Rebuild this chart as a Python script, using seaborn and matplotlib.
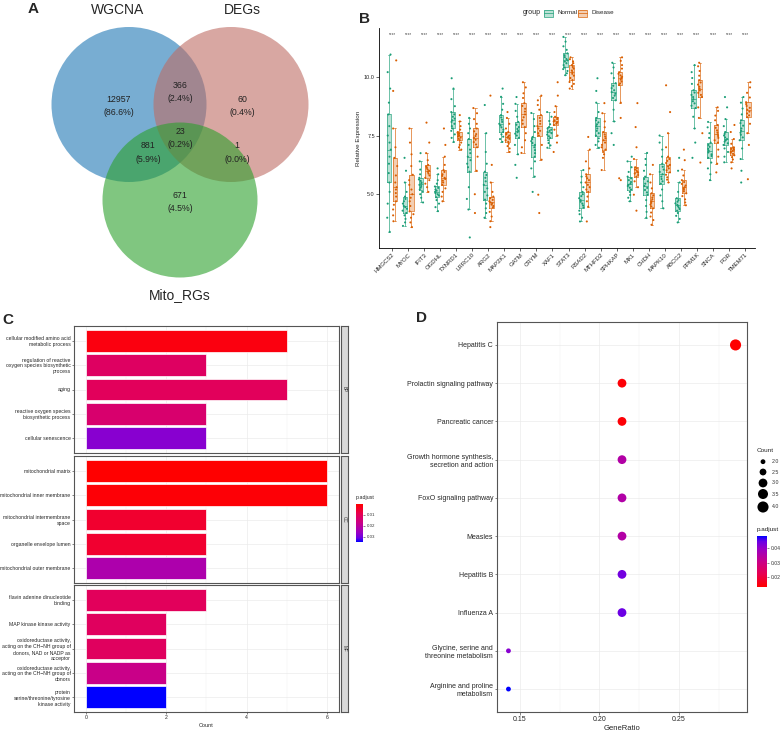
import numpy as np
import pandas as pd
import matplotlib
matplotlib.use('Agg')
import matplotlib as mpl
import matplotlib.pyplot as plt
import seaborn as sns
from matplotlib.patches import Circle, Rectangle
from matplotlib.colors import LinearSegmentedColormap, Normalize

sns.set_theme(style='white')
plt.rcParams['font.family'] = ['Liberation Sans', 'DejaVu Sans']

# ---------------- Panel A data (Venn) ----------------
venn_sets = ['WGCNA', 'DEGs', 'Mito_RGs']
venn_regions = ['WGCNA only', 'WGCNA&DEGs', 'DEGs only', 'all', 'WGCNA&Mito', 'DEGs&Mito', 'Mito only']
venn_counts = [12957, 366, 60, 23, 881, 1, 671]

# ---------------- Panel B data ----------------
genes = ['HMGCS2', 'MYOC', 'IFIT3', 'OGDHL', 'TXNRD1', 'LRRC10', 'ARG2', 'MAP2K1', 'GATM', 'CRYM',
         'XAF1', 'STAT3', 'RSAD2', 'MTHFD2', 'SPHKAP', 'MX1', 'CHDH', 'MAPK10', 'ABCG2', 'PPM1K',
         'SNCA', 'POR', 'TMEM71']
groups = ['Normal', 'Disease']
normal_vals = [
    [3.4, 4.0, 4.6, 5.1, 5.5, 5.9, 6.3, 6.6, 6.9, 7.2, 7.5, 7.9, 8.4, 8.9, 9.5, 10.2, 10.95],
    [3.65, 3.8, 3.95, 4.1, 4.2, 4.3, 4.38, 4.45, 4.5, 4.6, 4.7, 4.8, 4.9, 5.1, 5.5, 6.0, 6.55],
    [4.65, 4.85, 5.0, 5.1, 5.2, 5.28, 5.35, 5.4, 5.45, 5.5, 5.57, 5.63, 5.7, 5.85, 6.05, 6.4, 6.75],
    [4.28, 4.45, 4.6, 4.75, 4.87, 4.95, 5.0, 5.05, 5.1, 5.15, 5.2, 5.27, 5.33, 5.45, 5.6, 5.85, 6.1],
    [7.23, 7.4, 7.55, 7.7, 7.8, 7.9, 8.0, 8.08, 8.15, 8.22, 8.3, 8.4, 8.5, 8.75, 9.05, 9.5, 9.94],
    [3.16, 4.35, 4.8, 5.3, 5.96, 6.15, 6.3, 6.45, 6.6, 6.75, 6.9, 7.1, 7.35, 7.6, 7.8, 8.0, 8.25],
    [4.0, 4.2, 4.4, 4.6, 4.77, 4.95, 5.1, 5.25, 5.4, 5.55, 5.7, 5.82, 5.96, 6.3, 6.8, 7.6, 8.8],
    [7.23, 7.35, 7.45, 7.55, 7.65, 7.75, 7.85, 7.93, 8.0, 8.08, 8.17, 8.27, 8.37, 8.6, 8.85, 9.15, 9.5],
    [5.7, 6.25, 6.7, 7.1, 7.4, 7.5, 7.58, 7.64, 7.7, 7.78, 7.86, 7.96, 8.08, 8.3, 8.55, 8.85, 9.14],
    [5.1, 5.75, 6.1, 6.4, 6.6, 6.75, 6.88, 7.0, 7.1, 7.18, 7.26, 7.35, 7.44, 7.65, 7.9, 8.2, 8.46],
    [6.98, 7.08, 7.18, 7.3, 7.4, 7.47, 7.54, 7.6, 7.65, 7.7, 7.75, 7.8, 7.86, 7.98, 8.12, 8.3, 8.5],
    [10.07, 10.15, 10.25, 10.33, 10.4, 10.5, 10.58, 10.65, 10.7, 10.76, 10.84, 10.92, 11.0, 11.15, 11.3, 11.5, 11.7],
    [3.84, 4.0, 4.15, 4.3, 4.43, 4.52, 4.6, 4.68, 4.75, 4.83, 4.92, 5.0, 5.1, 5.3, 5.5, 5.75, 6.03],
    [6.98, 7.1, 7.25, 7.38, 7.5, 7.6, 7.7, 7.8, 7.9, 7.98, 8.06, 8.15, 8.25, 8.5, 8.9, 9.4, 9.94],
    [7.1, 7.6, 8.1, 8.6, 9.0, 9.1, 9.2, 9.28, 9.35, 9.43, 9.52, 9.62, 9.73, 9.95, 10.15, 10.4, 10.6],
    [4.7, 4.85, 4.97, 5.1, 5.2, 5.28, 5.35, 5.4, 5.45, 5.52, 5.6, 5.68, 5.75, 5.95, 6.15, 6.4, 6.6],
    [4.0, 4.25, 4.5, 4.75, 4.98, 5.08, 5.18, 5.27, 5.35, 5.45, 5.55, 5.65, 5.75, 6.0, 6.25, 6.5, 6.76],
    [4.4, 4.7, 4.95, 5.2, 5.45, 5.55, 5.65, 5.75, 5.85, 5.95, 6.05, 6.17, 6.3, 6.6, 6.9, 7.2, 7.5],
    [3.8, 3.95, 4.08, 4.2, 4.3, 4.37, 4.44, 4.5, 4.55, 4.61, 4.68, 4.75, 4.83, 5.1, 5.5, 6.0, 6.55],
    [6.55, 7.2, 7.8, 8.3, 8.67, 8.77, 8.87, 8.96, 9.05, 9.14, 9.23, 9.33, 9.43, 9.7, 9.95, 10.2, 10.5],
    [5.6, 5.85, 6.1, 6.35, 6.55, 6.63, 6.7, 6.78, 6.85, 6.93, 7.02, 7.1, 7.2, 7.4, 7.6, 7.85, 8.08],
    [6.36, 6.6, 6.8, 6.95, 7.1, 7.17, 7.24, 7.3, 7.35, 7.42, 7.5, 7.57, 7.65, 7.9, 8.2, 8.7, 9.14],
    [5.5, 6.0, 6.5, 6.95, 7.3, 7.42, 7.53, 7.62, 7.7, 7.8, 7.92, 8.03, 8.15, 8.4, 8.65, 8.9, 9.14],
]
disease_vals = [
    [3.85, 4.1, 4.35, 4.55, 4.7, 4.9, 5.05, 5.2, 5.3, 5.5, 5.8, 6.2, 6.55, 7.0, 7.8, 9.4, 10.7],
    [3.6, 3.8, 4.0, 4.15, 4.27, 4.5, 4.7, 4.85, 5.0, 5.2, 5.4, 5.6, 5.83, 6.2, 6.7, 7.2, 7.8],
    [5.1, 5.3, 5.45, 5.6, 5.7, 5.8, 5.88, 5.95, 6.0, 6.05, 6.12, 6.18, 6.25, 6.45, 6.75, 7.2, 8.05],
    [4.7, 4.9, 5.1, 5.25, 5.4, 5.5, 5.58, 5.65, 5.7, 5.78, 5.85, 5.95, 6.03, 6.25, 6.6, 7.1, 7.8],
    [6.9, 7.0, 7.1, 7.2, 7.3, 7.36, 7.41, 7.46, 7.5, 7.54, 7.58, 7.62, 7.65, 7.75, 7.9, 8.1, 8.37],
    [4.2, 5.0, 6.0, 6.6, 7.0, 7.12, 7.22, 7.32, 7.4, 7.48, 7.56, 7.68, 7.8, 8.0, 8.2, 8.45, 8.67],
    [3.6, 3.85, 4.05, 4.25, 4.43, 4.5, 4.56, 4.61, 4.65, 4.7, 4.76, 4.83, 4.9, 5.1, 5.5, 6.25, 9.2],
    [6.8, 6.95, 7.05, 7.15, 7.23, 7.3, 7.36, 7.41, 7.45, 7.5, 7.55, 7.6, 7.65, 7.8, 8.0, 8.25, 8.5],
    [6.76, 7.0, 7.3, 7.6, 7.86, 8.0, 8.15, 8.28, 8.4, 8.52, 8.64, 8.76, 8.88, 9.1, 9.3, 9.55, 9.77],
    [4.2, 4.98, 6.47, 7.1, 7.5, 7.6, 7.7, 7.8, 7.9, 8.0, 8.12, 8.25, 8.37, 8.6, 8.8, 9.0, 9.2],
    [6.8, 7.2, 7.5, 7.75, 7.95, 8.0, 8.04, 8.07, 8.1, 8.15, 8.2, 8.25, 8.3, 8.5, 8.75, 9.2, 9.77],
    [9.5, 9.6, 9.7, 9.78, 9.86, 9.95, 10.05, 10.13, 10.2, 10.27, 10.35, 10.42, 10.5, 10.58, 10.66, 10.75, 10.83],
    [3.84, 4.47, 4.7, 4.9, 5.1, 5.2, 5.3, 5.4, 5.5, 5.6, 5.68, 5.76, 5.85, 6.1, 6.4, 6.9, 7.44],
    [6.03, 6.55, 6.7, 6.8, 6.9, 7.0, 7.1, 7.2, 7.3, 7.38, 7.46, 7.55, 7.65, 7.85, 8.1, 8.45, 8.88],
    [5.6, 5.68, 8.25, 8.9, 9.65, 9.72, 9.8, 9.88, 9.95, 10.0, 10.06, 10.13, 10.2, 10.35, 10.5, 10.68, 10.83],
    [4.3, 4.98, 5.3, 5.55, 5.75, 5.82, 5.88, 5.92, 5.95, 6.0, 6.05, 6.1, 6.15, 6.5, 7.0, 7.86, 8.88],
    [3.7, 3.9, 4.05, 4.22, 4.4, 4.48, 4.56, 4.63, 4.7, 4.78, 4.86, 4.95, 5.04, 5.25, 5.5, 5.85, 6.25],
    [5.5, 5.62, 5.72, 5.83, 5.93, 6.02, 6.1, 6.18, 6.25, 6.33, 6.42, 6.5, 6.6, 7.0, 7.6, 8.5, 9.64],
    [4.53, 4.65, 4.78, 4.92, 5.04, 5.12, 5.19, 5.25, 5.3, 5.37, 5.44, 5.52, 5.6, 5.8, 6.05, 6.45, 6.9],
    [6.35, 7.6, 8.25, 8.7, 9.14, 9.23, 9.32, 9.42, 9.5, 9.58, 9.67, 9.76, 9.86, 10.05, 10.25, 10.45, 10.6],
    [5.93, 6.3, 6.6, 6.9, 7.2, 7.3, 7.4, 7.48, 7.55, 7.63, 7.72, 7.83, 7.95, 8.15, 8.35, 8.55, 8.7],
    [6.1, 6.36, 6.48, 6.58, 6.66, 6.72, 6.77, 6.81, 6.85, 6.89, 6.93, 6.96, 7.0, 7.15, 7.35, 7.65, 7.95],
    [5.64, 7.1, 7.6, 8.0, 8.28, 8.36, 8.44, 8.52, 8.6, 8.68, 8.76, 8.84, 8.92, 9.12, 9.32, 9.55, 9.77],
]
signif = ['****'] * len(genes)

# ---------------- Panel C data (GO) ----------------
go_ont = ['BP'] * 5 + ['CC'] * 5 + ['MF'] * 5
go_terms = [
    'cellular modified amino acid\nmetabolic process',
    'regulation of reactive\noxygen species biosynthetic\nprocess',
    'aging',
    'reactive oxygen species\nbiosynthetic process',
    'cellular senescence',
    'mitochondrial matrix',
    'mitochondrial inner membrane',
    'mitochondrial intermembrane\nspace',
    'organelle envelope lumen',
    'mitochondrial outer membrane',
    'flavin adenine dinucleotide\nbinding',
    'MAP kinase kinase activity',
    'oxidoreductase activity,\nacting on the CH\u2212NH group of\ndonors, NAD or NADP as\nacceptor',
    'oxidoreductase activity,\nacting on the CH\u2212NH group of\ndonors',
    'protein\nserine/threonine/tyrosine\nkinase activity',
]
go_count = [5, 3, 5, 3, 3, 6, 6, 3, 3, 3, 3, 2, 2, 2, 2]
go_padj = [0.002, 0.0116, 0.0106, 0.0133, 0.0277, 0.0003, 0.001, 0.0054, 0.0056, 0.0225,
           0.0106, 0.011, 0.0112, 0.0174, 0.0345]

# ---------------- Panel D data (KEGG) ----------------
kegg_terms = ['Hepatitis C', 'Prolactin signaling pathway', 'Pancreatic cancer',
              'Growth hormone synthesis,\nsecretion and action', 'FoxO signaling pathway',
              'Measles', 'Hepatitis B', 'Influenza A',
              'Glycine, serine and\nthreonine metabolism', 'Arginine and proline\nmetabolism']
kegg_ratio = [0.2857, 0.2143, 0.2143, 0.2143, 0.2143, 0.2143, 0.2143, 0.2143, 0.1429, 0.1429]
kegg_count = [4, 3, 3, 3, 3, 3, 3, 3, 2, 2]
kegg_padj = [0.0131, 0.0138, 0.0138, 0.0350, 0.0352, 0.0350, 0.0437, 0.0444, 0.0413, 0.0483]
count_legend = [2.0, 2.5, 3.0, 3.5, 4.0]

# ---------------- Figure ----------------
W, H = 784, 731
fig = plt.figure(figsize=(W / 100, H / 100), dpi=100)


def add_ax(x0, y0, x1, y1):
    return fig.add_axes([x0 / W, 1 - y1 / H, (x1 - x0) / W, (y1 - y0) / H])


def ftext(x, y, s, **kw):
    fig.text(x / W, 1 - y / H, s, **kw)


cmap = LinearSegmentedColormap.from_list(
    'redblue', [(0, '#FF0000'), (0.25, '#E8004F'), (0.5, '#C90088'),
                (0.75, '#9A00C3'), (0.9, '#6800E6'), (1.0, '#0000FF')])

# ---- Panel A: Venn ----
axA = add_ax(0, 0, 360, 310)
axA.set_xlim(0, 360)
axA.set_ylim(310, 0)
axA.axis('off')
circ_specs = [((129, 104.5), '#1f77b4'), ((231, 104.5), '#be6c64'), ((180, 200), '#2ca02c')]
for (c, col) in circ_specs:
    axA.add_patch(Circle(c, 77.5, facecolor=col, alpha=0.6, lw=0))
total = sum(venn_counts)
region_pos = [(119, 99), (180, 85), (242, 99), (180, 131), (148, 146), (237, 146), (180, 195)]
for (x, y), n in zip(region_pos, venn_counts):
    axA.text(x, y, f'{n}', ha='center', va='center', fontsize=6.3, color='#222222')
    axA.text(x, y + 13.5, f'({100 * n / total:.1f}%)', ha='center', va='center', fontsize=6.3,
             color='#222222')
axA.text(118, 10, venn_sets[0], ha='center', va='center', fontsize=10)
axA.text(242, 10, venn_sets[1], ha='center', va='center', fontsize=10)
axA.text(180, 295, venn_sets[2], ha='center', va='center', fontsize=10)

# ---- Panel B ----
rows = []
for g, nv, dv in zip(genes, normal_vals, disease_vals):
    for v in nv:
        rows.append((g, 'Normal', v))
    for v in dv:
        rows.append((g, 'Disease', v))
dfB = pd.DataFrame(rows, columns=['gene', 'group', 'value'])
pal = {'Normal': '#1b9e77', 'Disease': '#d95f02'}

axB = add_ax(379, 28, 755, 248)
sns.boxplot(data=dfB, x='gene', y='value', hue='group', order=genes, hue_order=groups,
            palette=pal, saturation=1, width=0.8, gap=0.3, showfliers=False, linewidth=0,
            boxprops=dict(alpha=0.3), legend=False, ax=axB)
sns.boxplot(data=dfB, x='gene', y='value', hue='group', order=genes, hue_order=groups,
            palette=pal, saturation=1, width=0.8, gap=0.3, showfliers=False, linewidth=0.45,
            fill=False, legend=False, ax=axB)
sns.stripplot(data=dfB, x='gene', y='value', hue='group', order=genes, hue_order=groups,
              palette=pal, dodge=True, jitter=0.28, size=1.5, linewidth=0, legend=False,
              ax=axB, zorder=3)
for i, s in enumerate(signif):
    axB.text(i, 11.82, s, ha='center', va='center', fontsize=3.3, color='#444444')
axB.set_xlim(-0.81, 22.62)
axB.set_ylim(2.71, 12.08)
axB.set_yticks([5.0, 7.5, 10.0])
axB.set_yticklabels(['5.0', '7.5', '10.0'])
axB.set_xlabel('')
axB.set_ylabel('Relative Expression', fontsize=4.5, labelpad=2)
axB.tick_params(axis='y', labelsize=4, length=2, width=0.5, pad=1, left=True)
axB.tick_params(axis='x', labelsize=4.3, length=2, width=0.5, pad=1, bottom=True)
plt.setp(axB.get_xticklabels(), rotation=45, ha='right', rotation_mode='anchor')
for sp in ['top', 'right']:
    axB.spines[sp].set_visible(False)
for sp in ['left', 'bottom']:
    axB.spines[sp].set_color('black')
    axB.spines[sp].set_linewidth(0.6)

# Legend for B
ftext(523, 13, 'group', fontsize=5, va='center', ha='left')
for (x0, tx, lab) in [(544, 557, 'Normal'), (578, 591, 'Disease')]:
    col = pal[lab]
    fig.patches.append(Rectangle((x0 / W, 1 - 16.5 / H), 9 / W, 7 / H, transform=fig.transFigure,
                                 facecolor=col, alpha=0.3, lw=0))
    fig.patches.append(Rectangle((x0 / W, 1 - 16.5 / H), 9 / W, 7 / H, transform=fig.transFigure,
                                 facecolor='none', edgecolor=col, lw=0.5))
    fig.lines.append(plt.Line2D([x0 / W, (x0 + 9) / W], [1 - 13 / H, 1 - 13 / H],
                                transform=fig.transFigure, color=col, lw=0.5))
    ftext(tx, 13, lab, fontsize=4.5, va='center', ha='left')

# ---- Panel C ----
dfC = pd.DataFrame({'ont': go_ont, 'Description': go_terms, 'Count': go_count, 'p.adjust': go_padj})
normC = Normalize(0.0003, 0.0345)
facet_y = [(326, 453), (456, 583), (585, 712)]
for k, ont in enumerate(['BP', 'CC', 'MF']):
    sub = dfC[dfC['ont'] == ont]
    y0, y1 = facet_y[k]
    ax = add_ax(74, y0, 339, y1)
    colors = {d: cmap(normC(p)) for d, p in zip(sub['Description'], sub['p.adjust'])}
    sns.barplot(data=sub, x='Count', y='Description', hue='Description', palette=colors,
                saturation=1, order=list(sub['Description']), orient='h', width=0.9,
                edgecolor='white', linewidth=0.5, legend=False, ax=ax, zorder=2)
    ax.set_xlim(-0.3, 6.3)
    ax.set_ylim(4.6, -0.6)
    ax.set_xticks([0, 2, 4, 6])
    ax.set_xticks([1, 3, 5], minor=True)
    ax.grid(True, which='major', color='#ebebeb', lw=0.5)
    ax.grid(True, which='minor', axis='x', color='#f2f2f2', lw=0.35)
    ax.set_axisbelow(True)
    ax.set_ylabel('')
    ax.tick_params(axis='y', labelsize=3.7, length=1.5, width=0.4, pad=1, left=True)
    ax.tick_params(axis='x', which='major', labelsize=3.7, length=1.5, width=0.4, pad=1, bottom=True)
    ax.tick_params(axis='x', which='minor', length=0)
    for sp in ax.spines.values():
        sp.set_color('#555555')
        sp.set_linewidth(0.8)
    if k < 2:
        ax.set_xticklabels([])
        ax.tick_params(axis='x', which='major', length=0)
        ax.set_xlabel('')
    else:
        ax.set_xlabel('Count', fontsize=4, labelpad=1.5)
    sax = add_ax(341, y0, 348, y1)
    sax.set_facecolor('#d9d9d9')
    sax.set_xticks([])
    sax.set_yticks([])
    for sp in sax.spines.values():
        sp.set_color('#555555')
        sp.set_linewidth(0.8)
    sax.text(0.5, 0.5, ont, rotation=-90, ha='center', va='center', fontsize=3.3,
             transform=sax.transAxes, color='#333333')

caxC = add_ax(356, 504, 363, 542)
cbC = mpl.colorbar.ColorbarBase(caxC, cmap=cmap, norm=normC)
cbC.set_ticks([0.01, 0.02, 0.03])
caxC.invert_yaxis()
cbC.outline.set_visible(False)
caxC.tick_params(labelsize=3.2, length=1.5, width=0.4, pad=1, colors='#333333')
ftext(356, 497, 'p.adjust', fontsize=3.8, ha='left', va='center')

# ---- Panel D ----
dfD = pd.DataFrame({'Description': kegg_terms, 'GeneRatio': kegg_ratio, 'Count': kegg_count,
                    'p.adjust': kegg_padj})
normD = Normalize(0.0131, 0.0483)
size_map = {2.0: 12, 2.5: 24, 3.0: 40, 3.5: 52, 4.0: 64}
axD = add_ax(497, 322, 747, 712)
sns.scatterplot(data=dfD, x='GeneRatio', y='Description', hue='p.adjust', palette=cmap,
                hue_norm=(0.0131, 0.0483), size='Count',
                sizes={c: size_map[float(c)] for c in set(kegg_count)},
                linewidth=0, legend=False, ax=axD, zorder=3)
axD.set_xlim(0.1357, 0.2929)
axD.set_ylim(9.6, -0.6)
axD.set_xticks([0.15, 0.20, 0.25])
axD.set_xticklabels(['0.15', '0.20', '0.25'])
axD.set_xticks([0.175, 0.225, 0.275], minor=True)
axD.grid(True, which='major', color='#ebebeb', lw=0.5)
axD.grid(True, which='minor', axis='x', color='#f2f2f2', lw=0.35)
axD.set_axisbelow(True)
axD.set_ylabel('')
axD.set_xlabel('GeneRatio', fontsize=5.5, labelpad=1.5)
axD.tick_params(axis='y', labelsize=5, length=1.8, width=0.4, pad=1, left=True)
axD.tick_params(axis='x', which='major', labelsize=5, length=1.8, width=0.4, pad=1, bottom=True)
axD.tick_params(axis='x', which='minor', length=0)
for sp in axD.spines.values():
    sp.set_color('#555555')
    sp.set_linewidth(0.8)

# Count legend
legax = add_ax(750, 440, 784, 515)
legax.set_xlim(750, 784)
legax.set_ylim(515, 440)
legax.axis('off')
leg_y = [461.7, 472, 483, 494, 507]
legax.scatter([763] * len(count_legend), leg_y, s=[size_map[c] for c in count_legend],
              color='black', linewidths=0)
for yy, c in zip(leg_y, count_legend):
    legax.text(772, yy, f'{c:.1f}', fontsize=3.8, va='center', ha='left', color='#333333')
ftext(757, 451, 'Count', fontsize=4.6, ha='left', va='center')

caxD = add_ax(757, 536, 767, 587)
cbD = mpl.colorbar.ColorbarBase(caxD, cmap=cmap, norm=normD)
cbD.set_ticks([0.02, 0.03, 0.04])
cbD.outline.set_visible(False)
caxD.tick_params(labelsize=3.6, length=1.5, width=0.4, pad=1, colors='#333333')
ftext(757, 530, 'p.adjust', fontsize=4.6, ha='left', va='center')

# Panel letters
ftext(28, 2, 'A', fontsize=11, fontweight='bold', va='top', ha='left')
ftext(359, 12, 'B', fontsize=11, fontweight='bold', va='top', ha='left')
ftext(2, 313, 'C', fontsize=11, fontweight='bold', va='top', ha='left')
ftext(416, 311, 'D', fontsize=11, fontweight='bold', va='top', ha='left')

fig.savefig('out.png', dpi=100)
